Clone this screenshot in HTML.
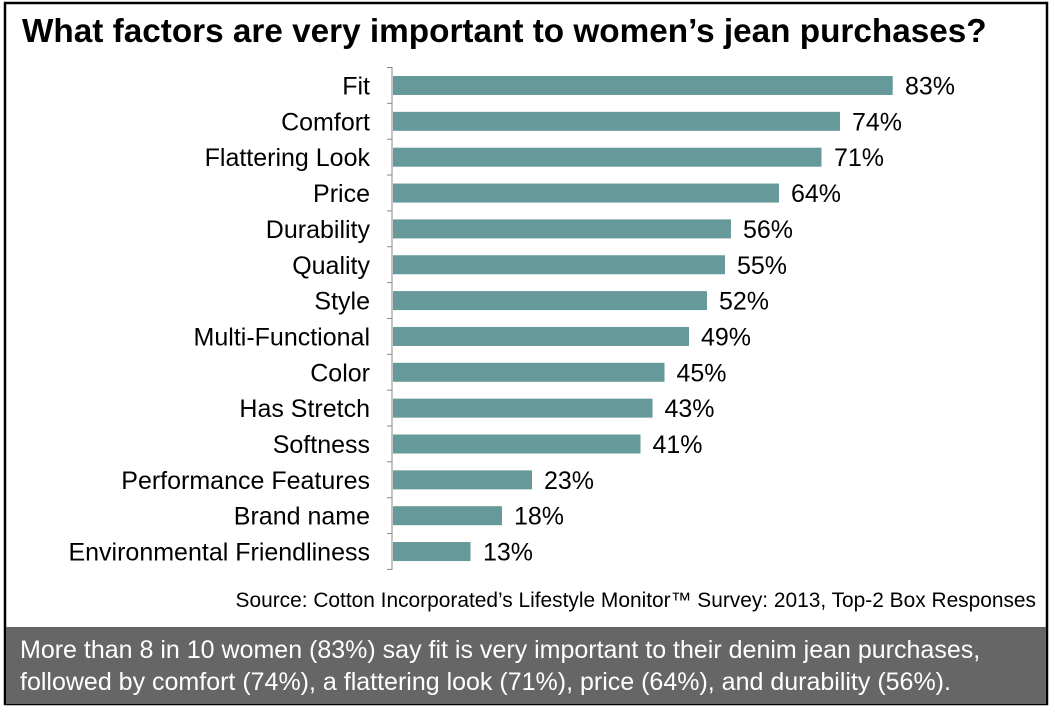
<!DOCTYPE html>
<html><head><style>
body{margin:0;width:1055px;height:709px;background:#fff;overflow:hidden;}
</style></head><body>
<svg width="1055" height="709" xmlns="http://www.w3.org/2000/svg" font-family="Liberation Sans, Arial, sans-serif">
<rect x="0" y="0" width="1055" height="709" fill="#fff"/>
<rect x="5" y="3" width="1042" height="701" fill="none" stroke="#000" stroke-width="2.5"/>
<text x="22" y="42" font-size="33.3" font-weight="bold" fill="#000">What factors are very important to women’s jean purchases?</text>
<g fill="#669999">
<rect x="393" y="76" width="499.7" height="19"/>
<rect x="393" y="111.85" width="447" height="19"/>
<rect x="393" y="147.7" width="428.5" height="19"/>
<rect x="393" y="183.55" width="386" height="19"/>
<rect x="393" y="219.4" width="338" height="19"/>
<rect x="393" y="255.25" width="332" height="19"/>
<rect x="393" y="291.1" width="314" height="19"/>
<rect x="393" y="326.95" width="296" height="19"/>
<rect x="393" y="362.8" width="271.5" height="19"/>
<rect x="393" y="398.65" width="259.5" height="19"/>
<rect x="393" y="434.5" width="247.5" height="19"/>
<rect x="393" y="470.35" width="139" height="19"/>
<rect x="393" y="506.2" width="109" height="19"/>
<rect x="393" y="542.05" width="77.5" height="19"/>
</g>
<g stroke="#888" stroke-width="1">
<line x1="392" y1="67" x2="392" y2="570"/>
<line x1="387" y1="67.5" x2="392" y2="67.5"/>
<line x1="387" y1="103.35" x2="392" y2="103.35"/>
<line x1="387" y1="139.2" x2="392" y2="139.2"/>
<line x1="387" y1="175.05" x2="392" y2="175.05"/>
<line x1="387" y1="210.9" x2="392" y2="210.9"/>
<line x1="387" y1="246.75" x2="392" y2="246.75"/>
<line x1="387" y1="282.6" x2="392" y2="282.6"/>
<line x1="387" y1="318.45" x2="392" y2="318.45"/>
<line x1="387" y1="354.3" x2="392" y2="354.3"/>
<line x1="387" y1="390.15" x2="392" y2="390.15"/>
<line x1="387" y1="426" x2="392" y2="426"/>
<line x1="387" y1="461.85" x2="392" y2="461.85"/>
<line x1="387" y1="497.7" x2="392" y2="497.7"/>
<line x1="387" y1="533.55" x2="392" y2="533.55"/>
<line x1="387" y1="569.4" x2="392" y2="569.4"/>
</g>
<g font-size="25" fill="#000" text-anchor="end">
<text x="370" y="94.5">Fit</text>
<text x="370" y="130.35">Comfort</text>
<text x="370" y="166.2">Flattering Look</text>
<text x="370" y="202.05">Price</text>
<text x="370" y="237.9">Durability</text>
<text x="370" y="273.75">Quality</text>
<text x="370" y="309.6">Style</text>
<text x="370" y="345.45">Multi-Functional</text>
<text x="370" y="381.3">Color</text>
<text x="370" y="417.15">Has Stretch</text>
<text x="370" y="453">Softness</text>
<text x="370" y="488.85">Performance Features</text>
<text x="370" y="524.7">Brand name</text>
<text x="370" y="560.55">Environmental Friendliness</text>
</g>
<g font-size="25" fill="#000">
<text x="905" y="94.5">83%</text>
<text x="852" y="130.35">74%</text>
<text x="834" y="166.2">71%</text>
<text x="791" y="202.05">64%</text>
<text x="743" y="237.9">56%</text>
<text x="737" y="273.75">55%</text>
<text x="719" y="309.6">52%</text>
<text x="701" y="345.45">49%</text>
<text x="676.5" y="381.3">45%</text>
<text x="664.5" y="417.15">43%</text>
<text x="652.5" y="453">41%</text>
<text x="544" y="488.85">23%</text>
<text x="514" y="524.7">18%</text>
<text x="483" y="560.55">13%</text>
</g>
<text x="1036" y="607" font-size="20.9" text-anchor="end">Source: Cotton Incorporated’s Lifestyle Monitor™ Survey: 2013, Top-2 Box Responses</text>
<rect x="6" y="627" width="1040" height="77" fill="#666"/>
<text x="20" y="658" font-size="25" fill="#fff">More than 8 in 10 women (83%) say fit is very important to their denim jean purchases,</text>
<text x="20" y="690" font-size="25" fill="#fff">followed by comfort (74%), a flattering look (71%), price (64%), and durability (56%).</text>
</svg>
</body></html>
